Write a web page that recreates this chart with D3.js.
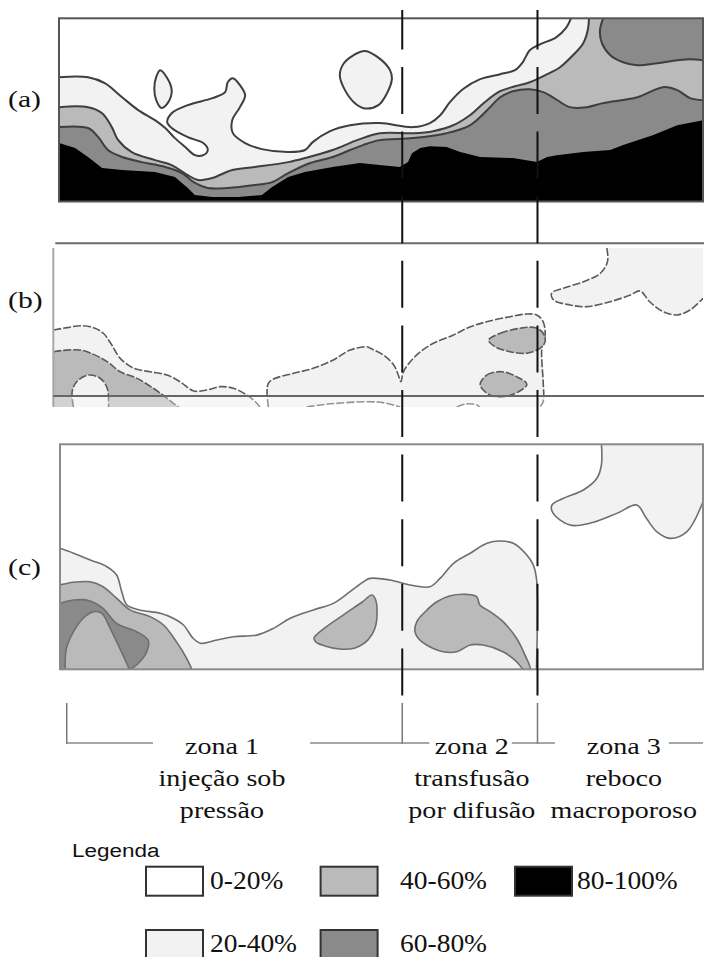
<!DOCTYPE html>
<html>
<head>
<meta charset="utf-8">
<script src="https://cdn.jsdelivr.net/npm/d3@7"></script>
<style>
  body { margin: 0; background: #fff; }
  svg { display: block; }
</style>
</head>
<body>
<div id="fig"></div>
<script>
// moisture classes shown by the grey levels
var levels = ["0-20%", "20-40%", "40-60%", "60-80%", "80-100%"];

// contour boundaries, x = % of panel length, y = % of panel depth (0 = top)
// panel (a)
var aLight = [[0,32.2],[4.5,32.2],[7.1,35.4],[9.8,43.1],[12.3,50.1],[14.9,55.6],[16.5,59.9],[18.0,65.4],[19.6,70.3],[21.1,74.7],[22.4,74.7],[23.1,71.9],[22.4,68.1],[20.0,64.9],[17.5,59.9],[16.8,56.7],[17.5,51.8],[20.0,47.4],[23.8,43.6],[25.8,40.3],[26.2,34.9],[27.0,32.7],[28.1,36.5],[28.9,42.0],[28.1,48.5],[26.9,55.6],[27.0,62.7],[28.9,68.1],[31.5,71.4],[35.6,73.0],[38.2,71.9],[39.4,67.6],[42.1,61.6],[45.2,58.4],[49.8,57.2],[55.0,59.4],[57.6,57.2],[59.2,52.9],[60.7,45.8],[62.7,38.7],[65.4,33.2],[68.5,30.5],[70.8,28.3],[72.0,24.0],[73.1,17.4],[74.7,14.2],[77.2,10.4],[78.7,5.4],[79.5,0]];
var aLeaf = [[15.7,28.3],[16.7,32.0],[17.5,39.2],[17.0,45.6],[15.9,48.9],[15.1,44.7],[14.8,38.3],[15.1,32.0]];
var aIsland = [[47.5,17.8],[49.8,22.0],[51.4,28.3],[51.7,32.9],[50.9,41.1],[49.6,47.4],[47.5,49.2],[46.0,46.5],[44.4,39.2],[43.6,31.1],[44.2,24.7],[45.7,20.2]];
var aMid = [[0,48.5],[4.5,48.5],[6.7,51.8],[8.2,59.4],[9.2,66.5],[11.3,73.0],[14.9,77.4],[17.5,80.1],[20.0,85.6],[21.6,88.3],[23.8,87.2],[26.9,82.8],[30.4,81.2],[35.6,78.5],[38.2,76.3],[42.5,71.9],[46.3,66.5],[49.8,62.7],[55.0,62.7],[58.1,61.6],[61.2,58.4],[63.8,52.9],[66.1,45.8],[68.5,39.8],[70.8,37.1],[73.1,34.9],[75.8,30.5],[77.8,26.7],[79.8,20.2],[81.4,13.6],[82.1,6.5],[82.3,0]];
var aDark = [[0,59.4],[4.5,59.9],[6.1,64.9],[7.6,71.9],[9.8,75.7],[12.9,78.5],[16.5,81.2],[19.1,84.5],[21.1,89.9],[23.1,92.6],[26.2,92.6],[30.4,91.0],[33.1,89.4],[35.6,84.5],[39.0,79.0],[42.5,75.7],[45.2,71.9],[47.2,69.2],[49.8,66.5],[55.0,65.4],[60.2,62.7],[63.8,58.4],[66.5,50.1],[68.5,43.1],[70.5,39.8],[73.1,38.7],[75.2,40.3],[76.7,43.1],[79.3,48.5],[82.0,48.5],[84.5,46.3],[89.8,43.1],[93.8,37.6],[96.0,39.2],[98.0,43.6],[100,44.7]];
var aTopDark = [[84.5,0],[84.0,6.5],[84.3,13.6],[85.6,20.2],[87.6,24.0],[89.8,25.6],[92.9,24.5],[96.0,22.9],[98.0,22.3],[100,22.9]];
var aBlack = [[0,68.1],[2.5,70.8],[4.5,75.7],[6.7,81.7],[9.8,82.8],[14.9,83.9],[18.0,86.6],[20.0,92.6],[21.1,96.5],[23.8,97.5],[27.8,97.5],[31.5,96.5],[33.1,92.1],[35.6,86.6],[38.2,83.9],[42.5,81.2],[46.7,79.0],[49.8,80.1],[52.9,81.2],[54.2,78.5],[54.8,73.6],[56.1,70.8],[57.6,69.8],[60.2,70.3],[62.3,73.0],[65.4,75.7],[70.5,76.3],[74.2,78.5],[75.8,75.7],[77.3,74.7],[81.4,73.0],[85.6,71.9],[87.6,69.2],[92.2,63.8],[96.0,58.4],[100,55.6]];

// panel (b)
var bLightA = [[0,51.6],[2.1,50.1],[4.2,48.9],[6.2,50.1],[7.7,53.6],[9.0,61.0],[10.3,69.4],[12.4,75.7],[14.9,77.8],[17.5,79.9],[19.5,84.1],[21.6,89.9],[23.6,89.3],[25.7,87.2],[27.7,88.2],[29.8,92.5],[31.1,96.7],[31.8,100]];
var bMidA = [[0,65.2],[2.1,64.2],[4.2,64.2],[6.2,66.9],[8.3,71.5],[10.3,77.8],[12.9,82.0],[15.4,88.2],[17.5,94.5],[18.5,97.7],[19.3,100]];
var bArch = [[3.1,100],[2.9,90.4],[3.6,84.1],[5.4,79.9],[7.2,81.9],[8.3,88.2],[8.5,100]];
var bLightB = [[33.1,100],[32.9,90.4],[33.1,85.1],[33.9,82.4],[37.0,78.8],[40.0,75.7],[43.1,70.4],[45.7,64.2],[48.3,62.1],[48.8,63.1],[50.8,67.3],[52.4,73.6],[53.1,79.9],[53.5,84.1],[53.9,77.8],[55.4,69.4],[58.0,61.0],[61.6,54.7],[64.2,49.5],[66.7,46.4],[70.3,43.2],[72.9,41.5],[74.4,42.1],[75.4,46.4],[75.7,54.7],[75.2,63.1],[75.2,71.5],[75.4,84.1],[75.4,96.7],[74.9,100]];
var bNotch = [[39.0,100],[41.1,98.7],[44.2,97.5],[48.8,96.7],[51.1,97.5],[53.4,100]];
var bNotch2 = [[62.1,100],[63.5,98.1],[65.2,98.7],[65.6,100]];
var bIsland1 = [[67.0,57.9],[68.8,53.6],[71.8,50.5],[74.2,50.1],[75.4,53.6],[75.7,58.9],[74.9,63.1],[72.9,66.2],[70.3,65.2],[68.0,62.1]];
var bIsland2 = [[65.7,86.2],[66.7,79.9],[69.0,77.8],[71.3,80.9],[72.9,85.7],[71.6,90.4],[69.3,93.5],[67.2,92.5]];
var bTopRight = [[85.2,0],[85.3,8.6],[84.2,15.9],[81.6,21.2],[78.5,25.3],[76.7,28.5],[77.0,32.7],[79.5,35.8],[82.1,36.9],[85.7,33.8],[88.8,29.6],[90.3,27.0],[91.8,33.8],[93.9,40.1],[96.0,42.1],[98.0,39.0],[100,31.6]];

// panel (c)
var cLight = [[0,46.2],[2.1,48.4],[4.7,51.4],[7.3,54.4],[8.8,58.1],[9.6,65.5],[10.4,71.4],[12.4,73.6],[15.6,75.1],[17.6,77.3],[19.2,80.3],[20.7,86.2],[21.8,88.4],[24.4,87.0],[27.0,85.5],[30.6,84.8],[33.2,81.8],[35.8,77.3],[39.4,73.6],[42.5,70.7],[45.1,65.5],[47.2,61.1],[48.2,59.6],[51.3,60.3],[54.4,62.5],[57.5,63.3],[59.1,59.6],[61.2,52.9],[63.8,48.4],[66.4,44.0],[68.4,43.0],[70.5,44.0],[72.6,49.2],[73.6,53.6],[74.1,59.6],[74.1,100]];
var cMid = [[0,62.5],[2.1,61.3],[4.7,61.1],[6.7,63.3],[8.8,68.4],[10.9,73.6],[14.0,76.6],[16.1,80.3],[18.1,87.7],[19.7,95.1],[20.5,100]];
var cDark = [[0,70.7],[2.1,69.2],[4.7,69.6],[6.7,72.9],[8.8,79.6],[11.9,83.3],[13.7,87.0],[13.5,92.2],[11.9,98.1],[10.9,100]];
var cArch = [[0.8,100],[1.0,90.7],[2.1,83.3],[3.6,77.3],[5.2,74.4],[6.5,75.1],[7.8,81.8],[9.3,90.7],[10.8,100]];
var cIsland1 = [[39.5,86.1],[41.2,81.6],[44.3,75.4],[47.0,70.1],[48.5,67.0],[49.1,69.2],[49.3,75.9],[49.0,81.6],[47.9,86.9],[45.9,90.5],[43.5,91.0],[41.2,89.6],[39.8,87.9]];
var cIsland2 = [[55.2,83.3],[55.5,78.8],[56.8,74.4],[58.6,70.0],[60.7,67.3],[63.3,66.7],[64.8,67.7],[65.3,71.4],[66.9,74.4],[68.9,78.8],[71.0,86.2],[72.3,93.6],[73.1,100],[72.1,100],[71.0,96.6],[68.9,92.2],[65.8,89.2],[63.8,89.2],[61.7,92.2],[59.6,92.2],[57.0,89.2],[55.7,86.2]];
var cTopRight = [[84.2,0],[84.2,9.2],[83.5,15.1],[81.4,20.3],[78.3,24.0],[76.5,27.0],[76.7,30.7],[79.3,35.9],[82.4,35.1],[86.6,30.7],[89.7,27.0],[91.2,32.9],[92.8,38.8],[94.9,41.8],[97.5,38.8],[100,25.5]];

// zones along the wall (same units as panel a)
var zoneTitles = ["zona 1", "zona 2", "zona 3"];
var zoneLine2 = ["injeção sob", "transfusão", "reboco"];
var zoneLine3 = ["pressão", "por difusão", "macroporoso"];
var zoneEdges = [1.2, 53.3, 74.3];
var zoneLabelX = [25.3, 64.1, 87.7];
var axisGaps = [[14.6, 39.0], [57.5, 70.3], [77.0, 94.7]];

// legend rows
var legendRow1 = ["0-20%", "40-60%", "80-100%"];
var legendRow2 = ["20-40%", "60-80%"];

// ---------------------------------------------------------------
var W = 704, H = 957;
var svg = d3.select("#fig").append("svg")
    .attr("width", W)
    .attr("height", H)
    .style("font-family", "'Liberation Serif', 'Times New Roman', serif");

var fill = d3.scaleOrdinal()
    .domain(levels)
    .range(["#ffffff", "#f2f2f2", "#bababa", "#8a8a8a", "#000000"]);

var TR = [100, 0], BR = [100, 100], BL = [0, 100];

var panels = [
  {key: "a", label: "(a)", box: [59, 18.3, 703, 201.5], labelY: 107, stroke: "#3e3e3e", sw: 2, dash: null,
   regions: [
     {pts: aLight, lvl: 1, close: [TR, BR, BL]},
     {pts: aLeaf, lvl: 1, close: "loop"},
     {pts: aIsland, lvl: 1, close: "loop"},
     {pts: aMid, lvl: 2, close: [TR, BR, BL]},
     {pts: aTopDark, lvl: 3, close: [TR]},
     {pts: aDark, lvl: 3, close: [BR, BL]},
     {pts: aBlack, lvl: 4, close: [BR, BL], rough: true}
   ]},
  {key: "b", label: "(b)", box: [53.3, 248, 703, 407], labelY: 308, stroke: "#5a5a5a", sw: 1.6, dash: "8,2",
   regions: [
     {pts: bLightA, lvl: 1, close: [BL]},
     {pts: bMidA, lvl: 2, close: [BL]},
     {pts: bArch, lvl: 1, close: []},
     {pts: bLightB, lvl: 1, close: []},
     {pts: bNotch, lvl: 0, close: []},
     {pts: bNotch2, lvl: 0, close: []},
     {pts: bIsland1, lvl: 2, close: "loop"},
     {pts: bIsland2, lvl: 2, close: "loop"},
     {pts: bTopRight, lvl: 1, close: [TR]}
   ]},
  {key: "c", label: "(c)", box: [60, 444.3, 703, 669.3], labelY: 575, stroke: "#6e6e6e", sw: 1.6, dash: null,
   regions: [
     {pts: cLight, lvl: 1, close: [BL]},
     {pts: cTopRight, lvl: 1, close: [TR]},
     {pts: cMid, lvl: 2, close: [BL]},
     {pts: cDark, lvl: 3, close: [BL]},
     {pts: cArch, lvl: 2, close: []},
     {pts: cIsland1, lvl: 2, close: "loop"},
     {pts: cIsland2, lvl: 2, close: "loop"}
   ]}
];

var defs = svg.append("defs");
var scaleA;

panels.forEach(function(p) {
  var x = d3.scaleLinear().domain([0, 100]).range([p.box[0], p.box[2]]);
  var y = d3.scaleLinear().domain([0, 100]).range([p.box[1], p.box[3]]);
  if (p.key == "a") scaleA = x;

  defs.append("clipPath").attr("id", "clip-" + p.key)
    .append("rect")
      .attr("x", x(0)).attr("y", y(0))
      .attr("width", x(100) - x(0)).attr("height", y(100) - y(0));

  var g = svg.append("g").attr("clip-path", "url(#clip-" + p.key + ")");
  g.append("rect")
    .attr("x", x(0)).attr("y", y(0))
    .attr("width", x(100) - x(0)).attr("height", y(100) - y(0))
    .attr("fill", fill(levels[0]));

  var smooth = d3.line().x(function(d) { return x(d[0]); }).y(function(d) { return y(d[1]); })
      .curve(d3.curveCatmullRom.alpha(0.5));
  var rough = d3.line().x(function(d) { return x(d[0]); }).y(function(d) { return y(d[1]); });
  var loop = d3.line().x(function(d) { return x(d[0]); }).y(function(d) { return y(d[1]); })
      .curve(d3.curveCatmullRomClosed.alpha(0.5));

  p.regions.forEach(function(r) {
    var dLine, dFill;
    if (r.close == "loop") {
      dLine = dFill = loop(r.pts);
    } else {
      dLine = (r.rough ? rough : smooth)(r.pts);
      dFill = dLine + r.close.map(function(c) { return "L" + x(c[0]) + "," + y(c[1]); }).join("") + "Z";
    }
    g.append("path").attr("d", dFill).attr("fill", fill(levels[r.lvl]));
    if (!r.rough) {
      g.append("path").attr("d", dLine)
        .attr("fill", "none")
        .attr("stroke", p.stroke)
        .attr("stroke-width", p.sw)
        .attr("stroke-dasharray", p.dash)
        .attr("stroke-linejoin", "round");
    }
  });

  // frames
  if (p.key == "b") {
    // washed out strip under the surface line
    g.append("rect")
      .attr("x", x(0)).attr("y", y(93.1))
      .attr("width", x(100) - x(0)).attr("height", y(100) - y(93.1))
      .attr("fill", "#fff").attr("opacity", 0.35);
    svg.append("line").attr("x1", x(0) + 2).attr("x2", W)
      .attr("y1", y(-3)).attr("y2", y(-3))
      .attr("stroke", "#6a6a6a").attr("stroke-width", 2);
    svg.append("line").attr("x1", x(0)).attr("x2", x(0))
      .attr("y1", y(0)).attr("y2", y(100))
      .attr("stroke", "#a8a8a8").attr("stroke-width", 2);
    svg.append("line").attr("x1", x(0)).attr("x2", W)
      .attr("y1", y(93.1)).attr("y2", y(93.1))
      .attr("stroke", "#666").attr("stroke-width", 2);
  } else {
    svg.append("rect")
      .attr("x", x(0)).attr("y", y(0))
      .attr("width", x(100) - x(0)).attr("height", y(100) - y(0))
      .attr("fill", "none")
      .attr("stroke", p.key == "a" ? "#555" : "#8a8a8a")
      .attr("stroke-width", 2);
  }

  svg.append("text")
    .attr("transform", "translate(8," + p.labelY + ") scale(1.35,1.05)")
    .attr("font-size", 22)
    .attr("fill", "#111")
    .text(p.label);
});

// dashed zone limits crossing all panels
zoneEdges.slice(1).forEach(function(z) {
  svg.append("line")
    .attr("x1", scaleA(z)).attr("x2", scaleA(z))
    .attr("y1", 10).attr("y2", 697)
    .attr("stroke", "#111").attr("stroke-width", 2)
    .attr("stroke-dasharray", "47,17.6")
    .attr("stroke-dashoffset", 7.6);
});

// zone axis
var axisY = 743;
zoneEdges.forEach(function(z) {
  svg.append("line")
    .attr("x1", scaleA(z)).attr("x2", scaleA(z))
    .attr("y1", 703).attr("y2", axisY + 1)
    .attr("stroke", "#777").attr("stroke-width", 1.5);
});
var segs = [];
var start = zoneEdges[0];
axisGaps.forEach(function(gp) { segs.push([start, gp[0]]); start = gp[1]; });
segs.push([start, 100]);
segs.forEach(function(s) {
  svg.append("line")
    .attr("x1", scaleA(s[0])).attr("x2", scaleA(s[1]))
    .attr("y1", axisY).attr("y2", axisY)
    .attr("stroke", "#888").attr("stroke-width", 1.5);
});

var zoneRows = [zoneTitles, zoneLine2, zoneLine3];
zoneRows.forEach(function(row, i) {
  row.forEach(function(t, j) {
    svg.append("text")
      .attr("transform", "translate(" + scaleA(zoneLabelX[j]) + "," + (754 + i * 32) + ") scale(1.22,1)")
      .attr("text-anchor", "middle")
      .attr("font-size", 23)
      .attr("fill", "#111")
      .text(t);
  });
});

// legend
svg.append("text")
  .attr("transform", "translate(72,857) scale(1.25,1)")
  .attr("font-family", "'Liberation Sans', Arial, sans-serif")
  .attr("font-size", 18)
  .attr("fill", "#111")
  .text("Legenda");

var boxX = [146, 320.6, 515], textX = [210, 400, 577];
var rows = [{items: legendRow1, y: 866.7}, {items: legendRow2, y: 930}];
rows.forEach(function(row) {
  row.items.forEach(function(lv, j) {
    svg.append("rect")
      .attr("x", boxX[j]).attr("y", row.y)
      .attr("width", 57).attr("height", 29)
      .attr("fill", fill(lv))
      .attr("stroke", "#333").attr("stroke-width", 2);
    svg.append("text")
      .attr("transform", "translate(" + textX[j] + "," + (row.y + 22) + ") scale(1.1,1)")
      .attr("font-size", 25)
      .attr("fill", "#111")
      .text(lv);
  });
});
</script>
</body>
</html>
